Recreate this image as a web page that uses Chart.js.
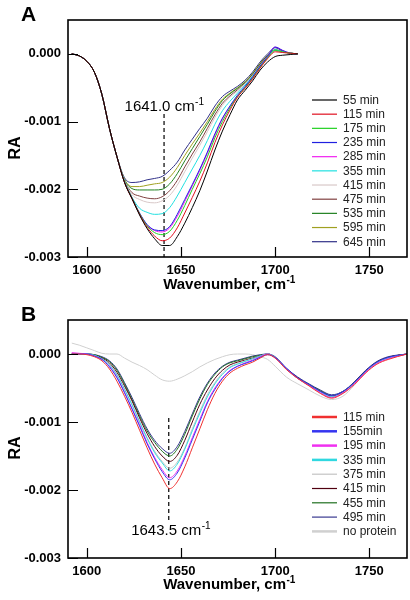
<!DOCTYPE html>
<html>
<head>
<meta charset="utf-8">
<script src="https://cdn.jsdelivr.net/npm/chart.js@4.4.0/dist/chart.umd.min.js"></script>
<style>
    body { margin: 0; background: #fff; }
    .panel { width: 410px; height: 300px; }
</style>
</head>
<body>
<div class="panel"><canvas id="chartA" width="410" height="300"></canvas></div>
<div class="panel"><canvas id="chartB" width="410" height="300"></canvas></div>
<script>
// axes
var xTicks = [1600, 1650, 1700, 1750];
var yTicks = [0, -0.001, -0.002, -0.003];

// ---- panel A ----
var waveA = [1592, 1596, 1600, 1604, 1608, 1612, 1616, 1620, 1624, 1628, 1632, 1636, 1640, 1644, 1648, 1652,
    1656, 1660, 1664, 1668, 1672, 1676, 1680, 1684, 1688, 1692, 1696, 1700, 1704, 1708, 1712];
var labelsA = ['55 min', '115 min', '175 min', '235 min', '285 min', '355 min', '415 min', '475 min', '535 min', '595 min', '645 min'];
var colorsA = ['#000000', '#e01020', '#20d020', '#2020e0', '#f020f0', '#20e0e0', '#d8c8c8', '#804040', '#208020', '#a0a020', '#303088'];

var a55 = [0, -0.00003, -0.00011, -0.00027, -0.0006, -0.0011, -0.00152, -0.0019, -0.00214, -0.00238, -0.00258, -0.00273, -0.00283, -0.00283, -0.0027, -0.0025, -0.00227, -0.00202, -0.00173, -0.00142, -0.00114, -0.0009, -0.00068, -0.00054, -0.0004, -0.00024, -0.00012, -0.00004, -0.00002, -0.00001, 0];
var a115 = [0, -0.00003, -0.00011, -0.00027, -0.0006, -0.0011, -0.00152, -0.0019, -0.00214, -0.00237, -0.00256, -0.00269, -0.00276, -0.00272, -0.00257, -0.00235, -0.00212, -0.00188, -0.00161, -0.00131, -0.00105, -0.00083, -0.00064, -0.00051, -0.00037, -0.00021, -0.00007, 0.00003, 0.00002, 0.00001, 0];
var a175 = [0, -0.00003, -0.00011, -0.00027, -0.0006, -0.0011, -0.00152, -0.00189, -0.00213, -0.00236, -0.00254, -0.00264, -0.00267, -0.00262, -0.00246, -0.00224, -0.002, -0.00177, -0.00152, -0.00124, -0.001, -0.0008, -0.00063, -0.0005, -0.00036, -0.0002, -0.00006, 0.00005, 0.00003, 0.00001, 0];
var a235 = [0, -0.00003, -0.00011, -0.00027, -0.0006, -0.0011, -0.00152, -0.00189, -0.00213, -0.00235, -0.00252, -0.0026, -0.00261, -0.00255, -0.00237, -0.00215, -0.00193, -0.0017, -0.00145, -0.00118, -0.00095, -0.00077, -0.00061, -0.00048, -0.00034, -0.00018, -0.00004, 0.0001, 0.00005, 0.00001, 0];
var a285 = [0, -0.00003, -0.00011, -0.00027, -0.0006, -0.0011, -0.00152, -0.00189, -0.00213, -0.00236, -0.00253, -0.00261, -0.00263, -0.00257, -0.0024, -0.00218, -0.00195, -0.00172, -0.00147, -0.0012, -0.00096, -0.00078, -0.00062, -0.00049, -0.00035, -0.00019, -0.00004, 0.0001, 0.00005, 0.00001, 0];
var a355 = [0, -0.00003, -0.00011, -0.00027, -0.0006, -0.0011, -0.00152, -0.00188, -0.00212, -0.00228, -0.00234, -0.00237, -0.00236, -0.00227, -0.0021, -0.0019, -0.0017, -0.0015, -0.00128, -0.00104, -0.00084, -0.0007, -0.00058, -0.00046, -0.00033, -0.00018, -0.00005, 0.00006, 0.00003, 0.00001, 0];
var a415 = [0, -0.00003, -0.00011, -0.00027, -0.0006, -0.0011, -0.00152, -0.00187, -0.00208, -0.00215, -0.00219, -0.0022, -0.00217, -0.00209, -0.00194, -0.00174, -0.00154, -0.00135, -0.00115, -0.00094, -0.00076, -0.00064, -0.00055, -0.00044, -0.00032, -0.00017, -0.00004, 0.00005, 0.00002, 0.00001, 0];
var a475 = [0, -0.00003, -0.00011, -0.00027, -0.0006, -0.0011, -0.00152, -0.00187, -0.00205, -0.0021, -0.00213, -0.00214, -0.00211, -0.00202, -0.00187, -0.00167, -0.00148, -0.0013, -0.0011, -0.0009, -0.00073, -0.00062, -0.00053, -0.00043, -0.00031, -0.00016, -0.00003, 0.00005, 0.00003, 0.00001, 0];
var a535 = [0, -0.00003, -0.00011, -0.00027, -0.0006, -0.0011, -0.00152, -0.00186, -0.00199, -0.00201, -0.00201, -0.00201, -0.002, -0.00192, -0.00177, -0.00158, -0.0014, -0.00122, -0.00104, -0.00085, -0.00069, -0.00059, -0.00051, -0.00042, -0.0003, -0.00015, -0.00002, 0.00006, 0.00003, 0.00001, 0];
var a595 = [0, -0.00003, -0.00011, -0.00027, -0.0006, -0.0011, -0.00152, -0.00185, -0.00196, -0.00196, -0.00194, -0.00192, -0.0019, -0.00182, -0.00168, -0.0015, -0.00133, -0.00117, -0.001, -0.00082, -0.00067, -0.00058, -0.0005, -0.00041, -0.00029, -0.00014, -0.00002, 0.00006, 0.00003, 0.00001, 0];
var a645 = [0, -0.00003, -0.00011, -0.00027, -0.0006, -0.0011, -0.00152, -0.00183, -0.0019, -0.00189, -0.00186, -0.00184, -0.00181, -0.00172, -0.0016, -0.00142, -0.00126, -0.0011, -0.00095, -0.00077, -0.00063, -0.00055, -0.00048, -0.00039, -0.00027, -0.00012, 0, 0.00009, 0.00004, 0.00001, 0];
var seriesA = [a55, a115, a175, a235, a285, a355, a415, a475, a535, a595, a645];

var peakA = 1641.0;
var dashA = [-0.00089, -0.003];
var peakLabelA = {x: 1641.0, y: -0.000845, text: '1641.0 cm'};

// ---- panel B ----
var waveB = [1592, 1596, 1600, 1604, 1608, 1612, 1616, 1620, 1624, 1628, 1632, 1636, 1640, 1644, 1648, 1652,
    1656, 1660, 1664, 1668, 1672, 1676, 1680, 1684, 1688, 1692, 1696, 1700, 1706, 1712, 1718, 1724, 1730,
    1736, 1742, 1748, 1754, 1760, 1770];
var labelsB = ['115 min', '155min', '195 min', '335 min', '375 min', '415 min', '455 min', '495 min', 'no protein'];
var colorsB = ['#f03030', '#3535f0', '#f030f0', '#30d8e0', '#c4c4c4', '#500010', '#207020', '#383890', '#d0d0d0'];
var legendWidthsB = [2.5, 2.5, 2.5, 2.5, 1.2, 1.2, 1.2, 1.2, 2.5];

var b115 = [0, 0, -0.00001, -0.00004, -0.0001, -0.00022, -0.0004, -0.00062, -0.00086, -0.00112, -0.00138, -0.00162, -0.00182, -0.00198, -0.00188, -0.00166, -0.00138, -0.0011, -0.00082, -0.00058, -0.0004, -0.00028, -0.00021, -0.00016, -0.00012, -0.00006, -0.00001, -0.00006, -0.00023, -0.00036, -0.00047, -0.00058, -0.00065, -0.00058, -0.00045, -0.00028, -0.00015, -0.00008, 0];
var b155 = [0, 0, 0, -0.00003, -0.00008, -0.00019, -0.00035, -0.00057, -0.00081, -0.00106, -0.00132, -0.00154, -0.00173, -0.00185, -0.00175, -0.00153, -0.00126, -0.00099, -0.00072, -0.00052, -0.00036, -0.00025, -0.00018, -0.00014, -0.0001, -0.00005, -0.00001, -0.00005, -0.00021, -0.00035, -0.00045, -0.00055, -0.00061, -0.00055, -0.00042, -0.00025, -0.00012, -0.00005, 0];
var b195 = [0.00002, 0.00001, 0, -0.00003, -0.00008, -0.00018, -0.00034, -0.00056, -0.0008, -0.00104, -0.0013, -0.00152, -0.0017, -0.00182, -0.00172, -0.0015, -0.00123, -0.00096, -0.0007, -0.0005, -0.00035, -0.00024, -0.00018, -0.00013, -0.00009, -0.00004, 0, -0.00006, -0.00022, -0.00036, -0.00046, -0.00057, -0.00064, -0.00057, -0.00044, -0.00027, -0.00014, -0.00007, 0];
var b335 = [0, 0, 0, -0.00002, -0.00007, -0.00016, -0.00031, -0.00052, -0.00075, -0.001, -0.00124, -0.00145, -0.0016, -0.00172, -0.00162, -0.0014, -0.00113, -0.00087, -0.00063, -0.00044, -0.0003, -0.0002, -0.00015, -0.00011, -0.00007, -0.00003, 0, -0.00005, -0.00022, -0.00036, -0.00046, -0.00056, -0.00063, -0.00057, -0.00043, -0.00026, -0.00013, -0.00006, 0];
var b375 = [0, 0, 0, -0.00002, -0.00007, -0.00015, -0.0003, -0.00051, -0.00074, -0.00099, -0.00123, -0.00143, -0.00158, -0.00168, -0.00159, -0.00138, -0.0011, -0.00084, -0.0006, -0.00042, -0.00028, -0.00019, -0.00014, -0.0001, -0.00007, -0.00003, 0, -0.00005, -0.00022, -0.00036, -0.00046, -0.00056, -0.00063, -0.00057, -0.00043, -0.00026, -0.00013, -0.00006, 0];
var b415 = [0, 0, 0, -0.00002, -0.00006, -0.00013, -0.00027, -0.00047, -0.00069, -0.00094, -0.00117, -0.00136, -0.0015, -0.00158, -0.00149, -0.00127, -0.001, -0.00074, -0.00053, -0.00036, -0.00024, -0.00016, -0.00012, -0.00009, -0.00006, -0.00003, 0, -0.00005, -0.00022, -0.00035, -0.00046, -0.00055, -0.00062, -0.00056, -0.00042, -0.00025, -0.00012, -0.00005, 0];
var b455 = [0, 0, 0, -0.00001, -0.00005, -0.00011, -0.00024, -0.00044, -0.00067, -0.00091, -0.00113, -0.0013, -0.00143, -0.0015, -0.0014, -0.00118, -0.00091, -0.00066, -0.00045, -0.0003, -0.00019, -0.00013, -0.0001, -0.00007, -0.00004, -0.00002, 0, -0.00005, -0.00022, -0.00035, -0.00045, -0.00054, -0.00061, -0.00055, -0.00042, -0.00025, -0.00012, -0.00005, 0];
var b495 = [0, 0, 0, -0.00001, -0.00004, -0.0001, -0.00022, -0.00042, -0.00064, -0.00088, -0.0011, -0.00127, -0.00139, -0.00146, -0.00136, -0.00114, -0.00088, -0.00063, -0.00043, -0.00028, -0.00018, -0.00012, -0.00009, -0.00006, -0.00003, -0.00001, 0, -0.00004, -0.00021, -0.00034, -0.00044, -0.00053, -0.0006, -0.00055, -0.00041, -0.00024, -0.00011, -0.00004, 0];
var bNone = [0.00016, 0.00013, 0.00009, 0.00005, 0.00001, 0, 0, -0.00006, -0.00012, -0.00017, -0.00023, -0.00031, -0.00038, -0.0004, -0.00037, -0.00032, -0.00026, -0.00019, -0.00013, -0.00008, -0.00004, -0.00001, 0, 0, -0.00001, -0.00004, -0.00008, -0.00018, -0.00034, -0.00044, -0.00053, -0.00062, -0.00067, -0.00062, -0.00046, -0.00027, -0.00013, -0.00005, 0];
var seriesB = [b115, b155, b195, b335, b375, b415, b455, b495, bNone];

var peakB = 1643.5;
var dashB = [-0.00094, -0.00246];
var peakLabelB = {x: 1644.5, y: -0.00266, text: '1643.5 cm'};

var FONT = '"Liberation Sans", Arial, Helvetica, sans-serif';
Chart.defaults.font.family = FONT;
Chart.defaults.color = '#000';

function buildSets(xs, ys, labels, colors, legendWidths, peak, dash) {
    var sets = [];
    for (var i = 0; i < ys.length; i++) {
        var pts = [];
        for (var j = 0; j < xs.length; j++) {
            pts.push({x: xs[j], y: ys[i][j]});
        }
        sets.push({
            label: labels[i],
            data: pts,
            borderColor: colors[i],
            borderWidth: 1,
            legendWidth: legendWidths ? legendWidths[i] : 1.2,
            pointRadius: 0,
            cubicInterpolationMode: 'monotone',
            fill: false
        });
    }
    // dashed marker at the band maximum
    sets.push({
        label: '',
        data: [{x: peak, y: dash[0]}, {x: peak, y: dash[1]}],
        borderColor: '#000',
        borderWidth: 1.2,
        borderDash: [4, 3],
        pointRadius: 0,
        tension: 0,
        fill: false
    });
    return sets;
}

function drawSup(ctx, main, sup, cx, base, size, weight) {
    var f1 = weight + ' ' + size + 'px ' + FONT;
    var f2 = weight + ' ' + Math.round(size * 0.66) + 'px ' + FONT;
    ctx.font = f1;
    var w1 = ctx.measureText(main).width;
    ctx.font = f2;
    var w2 = ctx.measureText(sup).width;
    var x0 = cx - (w1 + w2) / 2;
    ctx.textAlign = 'left';
    ctx.textBaseline = 'alphabetic';
    ctx.font = f1;
    ctx.fillText(main, x0, base);
    ctx.font = f2;
    ctx.fillText(sup, x0 + w1 + 0.5, base - size * 0.42);
}

var framePlugin = {
    id: 'frame',
    afterDraw: function (chart, args, opts) {
        var ctx = chart.ctx;
        var a = chart.chartArea;
        var xs = chart.scales.x;
        var ys = chart.scales.y;
        ctx.save();
        ctx.strokeStyle = '#000';
        ctx.lineWidth = 1.6;
        ctx.strokeRect(a.left, a.top, a.right - a.left, a.bottom - a.top);

        // inward ticks
        ctx.lineWidth = 1.2;
        ctx.beginPath();
        ys.ticks.forEach(function (t) {
            var y = Math.round(ys.getPixelForValue(t.value)) + 0.5;
            ctx.moveTo(a.left, y);
            ctx.lineTo(a.left + 10, y);
        });
        xs.ticks.forEach(function (t) {
            var x = Math.round(xs.getPixelForValue(t.value)) + 0.5;
            ctx.moveTo(x, a.bottom);
            ctx.lineTo(x, a.bottom - 10);
        });
        ctx.stroke();

        ctx.fillStyle = '#000';
        // panel letter
        ctx.font = 'bold 21px ' + FONT;
        ctx.textAlign = 'left';
        ctx.textBaseline = 'alphabetic';
        ctx.fillText(opts.letter, 21, 21);

        // axis titles
        drawSup(ctx, 'Wavenumber, cm', '-1', 229, 289, 15, 'bold');
        ctx.save();
        ctx.translate(20, 148);
        ctx.rotate(-Math.PI / 2);
        ctx.font = 'bold 16px ' + FONT;
        ctx.textAlign = 'center';
        ctx.fillText('RA', 0, 0);
        ctx.restore();

        // band label
        var lb = opts.peakLabel;
        drawSup(ctx, lb.text, '-1', xs.getPixelForValue(lb.x), ys.getPixelForValue(lb.y), 15, 'normal');

        // legend
        var lg = opts.legend;
        ctx.font = '12px ' + FONT;
        ctx.textBaseline = 'middle';
        chart.data.datasets.forEach(function (ds, i) {
            if (!ds.label) return;
            var y = lg.top + i * lg.step;
            ctx.strokeStyle = ds.borderColor;
            ctx.lineWidth = ds.legendWidth;
            ctx.beginPath();
            ctx.moveTo(lg.left, y);
            ctx.lineTo(lg.left + 25, y);
            ctx.stroke();
            ctx.fillStyle = '#222';
            ctx.fillText(ds.label, lg.left + 31, y + 0.5);
        });
        ctx.restore();
    }
};

function makeChart(id, sets, letter, peakLabel, legend, xHeight) {
    return new Chart(document.getElementById(id).getContext('2d'), {
        type: 'line',
        data: {datasets: sets},
        options: {
            responsive: false,
            animation: false,
            layout: {padding: {left: 0, right: 3, top: 20, bottom: 0}},
            plugins: {
                legend: {display: false},
                tooltip: {enabled: false},
                frame: {letter: letter, peakLabel: peakLabel, legend: legend}
            },
            scales: {
                x: {
                    type: 'linear',
                    min: 1590,
                    max: 1770,
                    grid: {display: false, drawTicks: false},
                    border: {display: false},
                    afterBuildTicks: function (s) {
                        s.ticks = xTicks.map(function (v) { return {value: v}; });
                    },
                    afterFit: function (s) { s.height = xHeight; },
                    ticks: {
                        font: {size: 13, weight: 'bold'},
                        color: '#000',
                        padding: 6,
                        maxRotation: 0,
                        autoSkip: false,
                        callback: function (v) { return String(v); }
                    }
                },
                y: {
                    min: -0.003,
                    max: 0.0005,
                    grid: {display: false, drawTicks: false},
                    border: {display: false},
                    afterBuildTicks: function (s) {
                        s.ticks = yTicks.map(function (v) { return {value: v}; });
                    },
                    afterFit: function (s) { s.width = 68; },
                    ticks: {
                        font: {size: 13, weight: 'bold'},
                        color: '#000',
                        padding: 7,
                        autoSkip: false,
                        callback: function (v) { return v.toFixed(3); }
                    }
                }
            }
        },
        plugins: [framePlugin]
    });
}

makeChart('chartA', buildSets(waveA, seriesA, labelsA, colorsA, null, peakA, dashA),
    'A', peakLabelA, {left: 312, top: 100, step: 14.17}, 43);
makeChart('chartB', buildSets(waveB, seriesB, labelsB, colorsB, legendWidthsB, peakB, dashB),
    'B', peakLabelB, {left: 312, top: 117, step: 14.3}, 42);
</script>
</body>
</html>
